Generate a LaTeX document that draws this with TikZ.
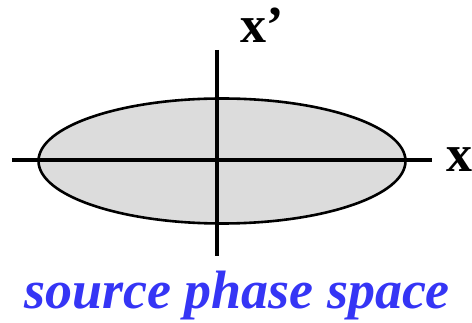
\documentclass[tikz,border=0pt]{standalone}
\usepackage{fontspec}
\setmainfont{Liberation Serif}
\usepackage{tikz}
\usetikzlibrary{shapes.geometric}
\definecolor{beamgray}{HTML}{DCDCDC}
\definecolor{labelblue}{HTML}{3535F5}

\begin{document}
\begin{tikzpicture}[
  x=1pt, y=-1pt,
  axis/.style={line width=4pt},
  beam/.style={draw, ellipse, line width=2.6pt, fill=beamgray, inner sep=0pt, minimum width=367pt, minimum height=125pt},
  axlabel/.style={font=\fontsize{52}{52}\selectfont\bfseries, inner sep=0pt}
]
\useasboundingbox (0,0) rectangle (472,323);
\node[beam] (ell) at (222,161) {};
\coordinate (hl) at (12,160);
\coordinate (hr) at (432,160);
\coordinate (vt) at (217,50);
\coordinate (vb) at (217,256);
\draw[axis] (hl) -- (hr);
\draw[axis] (vt) -- (vb);
\node[axlabel, anchor=base] (xlab) at (459,172) {x};
\node[axlabel, anchor=base] (xplab) at (262,43) {x’};
\node[font=\fontsize{54}{54}\selectfont\bfseries\itshape, text=labelblue, anchor=base, inner sep=0pt] (title) at (237,309) {source phase space};
\end{tikzpicture}
\end{document}
